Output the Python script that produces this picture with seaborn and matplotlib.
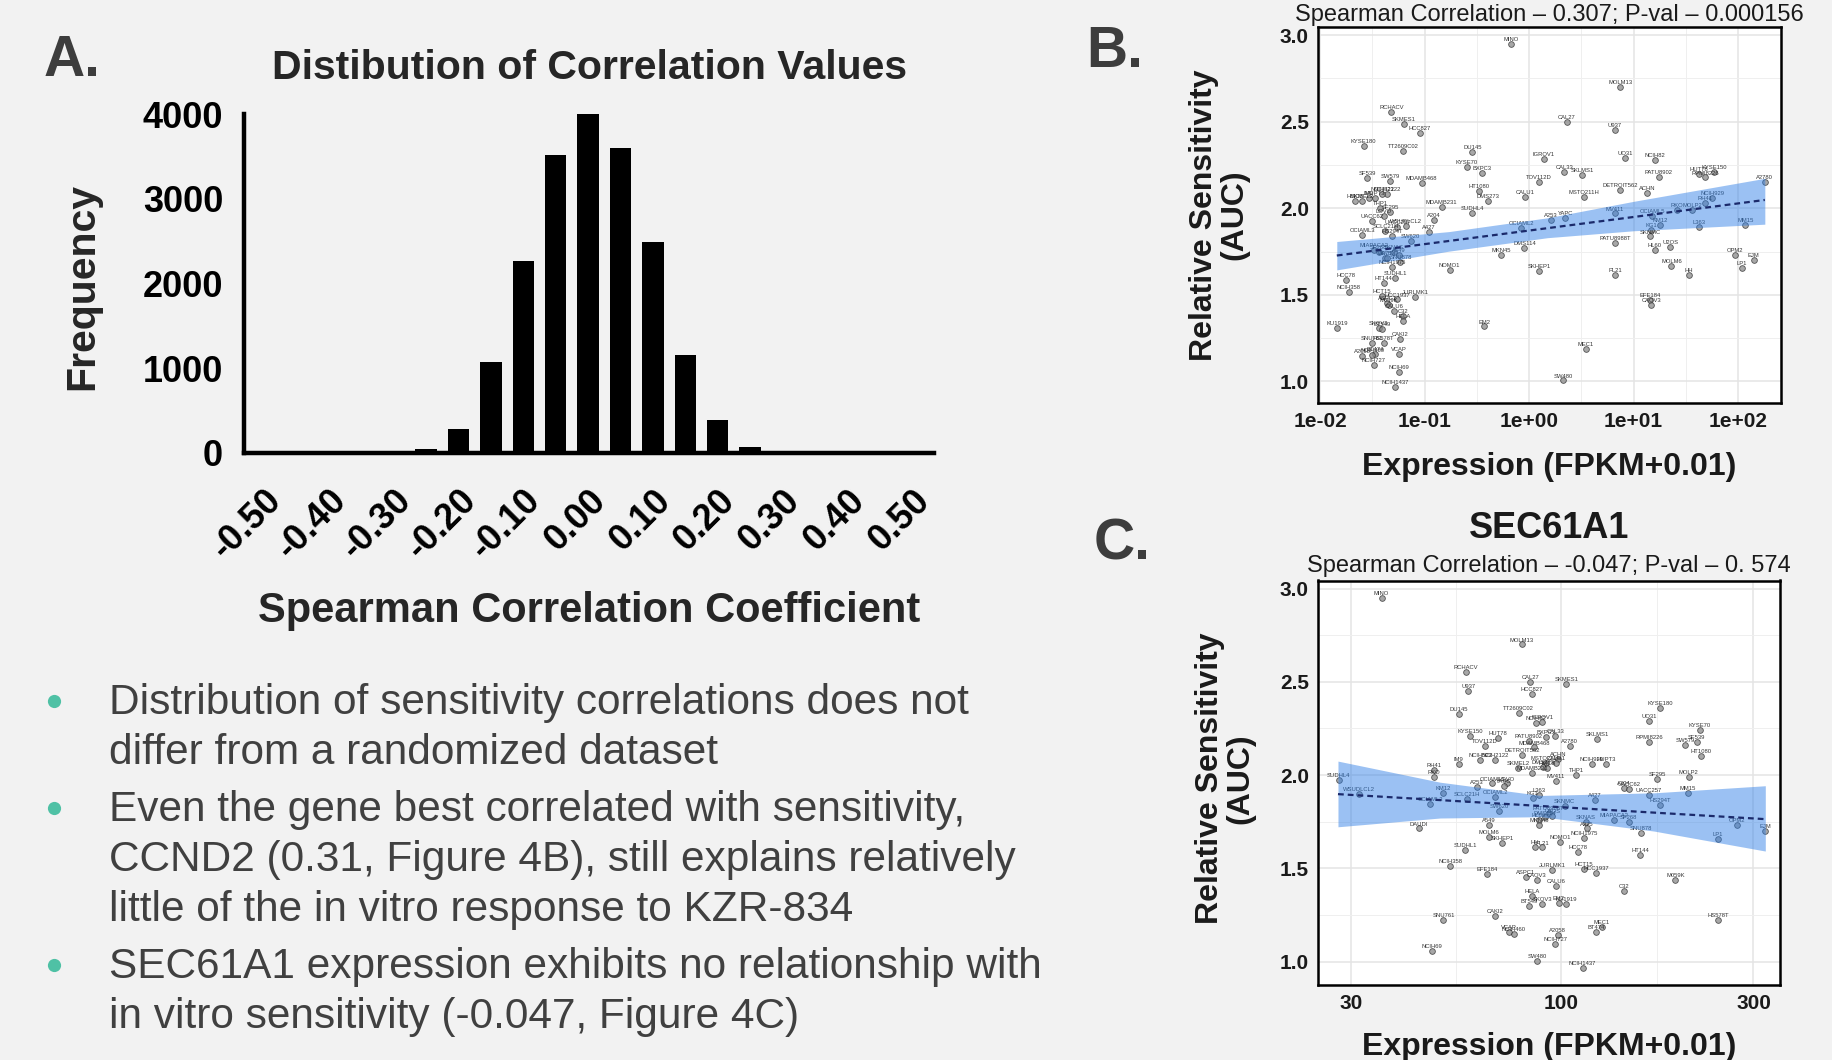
import matplotlib
matplotlib.use("Agg")
import matplotlib.pyplot as plt
import matplotlib.transforms as mtransforms
from matplotlib.lines import Line2D
from matplotlib.ticker import FixedLocator, NullFormatter
import numpy as np
import pandas as pd
import seaborn as sns

# ---- panel A: distribution of correlation values ----
corr_bin_centers = [-0.50, -0.45, -0.40, -0.35, -0.30, -0.25, -0.20, -0.15, -0.10, -0.05, 0.00,
                    0.05, 0.10, 0.15, 0.20, 0.25, 0.30, 0.35, 0.40, 0.45, 0.50]
corr_counts = [0, 0, 0, 0, 5, 45, 285, 1070, 2260, 3520, 4000,
               3600, 2490, 1160, 385, 65, 5, 0, 0, 0, 0]
corr_ticks = [-0.50, -0.40, -0.30, -0.20, -0.10, 0.00, 0.10, 0.20, 0.30, 0.40, 0.50]
freq_ticks = [0, 1000, 2000, 3000, 4000]

# ---- panels B / C: cell line sensitivity vs expression ----
cell_lines = ["MINO", "MOLM13", "RCHACV", "CAL27", "SKMES1", "U937", "HCC827", "KYSE180",
              "TT2609C02", "DU145", "UO31", "IGROV1", "NCIH82", "KYSE70", "CAL33", "KYSE150",
              "BXPC3", "HUT78", "SKLMS1", "PATU8902", "RPMI8226", "SF539", "SW579", "MDAMB468",
              "A2780", "TOV112D", "HT1080", "DETROIT562", "NCIH2122", "ACHN", "MSTO211H", "CALU1",
              "NCIH522", "NCIH929", "HUPT3", "DMS273", "IM9", "HMCB", "SKMEL2", "MDAMB231",
              "RH41", "RKO", "MOLP2", "MV411", "SF295", "SUDHL4", "THP1", "OCIAML5",
              "LOVO", "YAPC", "A253", "A204", "UACC62", "KM12", "MM15", "UACC257",
              "WSUDLCL2", "L363", "OCIAML2", "KG1", "SCLC21H", "A427", "OCIAML3", "HS294T",
              "SKNMC", "SW620", "PATU8988T", "SF268", "U2OS", "DMS114", "MIAPACA2", "HL60",
              "SKNAS", "MKN45", "A549", "A375", "DAUDI", "OPM2", "EJM", "SNU878",
              "LP1", "MOLM6", "NCIH1975", "NOMO1", "SKHEP1", "PL21", "HH", "SUDHL1",
              "HCC78", "HT144", "NCIH358", "HCT15", "JURLMK1", "HCC1937", "EFE184", "ASPC1",
              "M059K", "CAOV3", "CALU6", "C32", "HELA", "EM2", "KU1919", "SKOV3",
              "BT549", "CAKI2", "SNU761", "HS578T", "MEC1", "BT474", "VCAP", "NCIH460",
              "A2058", "NCIH727", "NCIH69", "SW480", "NCIH1437"]
auc = [2.95, 2.70, 2.554, 2.50, 2.488, 2.452, 2.437, 2.362,
       2.331, 2.327, 2.288, 2.285, 2.279, 2.240, 2.212, 2.208,
       2.204, 2.20, 2.192, 2.183, 2.178, 2.177, 2.160, 2.148,
       2.154, 2.154, 2.10, 2.106, 2.081, 2.087, 2.067, 2.067,
       2.08, 2.058, 2.062, 2.044, 2.06, 2.04, 2.04, 2.01,
       2.03, 1.99, 1.99, 1.97, 1.981, 1.975, 2.00, 1.955,
       1.955, 1.942, 1.935, 1.933, 1.925, 1.905, 1.904, 1.893,
       1.90, 1.894, 1.885, 1.875, 1.87, 1.865, 1.845, 1.84,
       1.837, 1.81, 1.798, 1.75, 1.779, 1.773, 1.76, 1.76,
       1.75, 1.731, 1.732, 1.714, 1.714, 1.731, 1.70, 1.688,
       1.657, 1.668, 1.661, 1.642, 1.635, 1.612, 1.615, 1.60,
       1.587, 1.571, 1.514, 1.495, 1.49, 1.473, 1.47, 1.455,
       1.44, 1.44, 1.404, 1.38, 1.35, 1.317, 1.31, 1.31,
       1.30, 1.244, 1.222, 1.222, 1.185, 1.16, 1.158, 1.15,
       1.144, 1.096, 1.056, 1.005, 0.967]
ccnd2_expr = [0.671, 7.45, 0.0482, 2.30, 0.0633, 6.58, 0.0901, 0.0261,
              0.0619, 0.287, 8.32, 1.38, 16.1, 0.252, 2.18, 58.5,
              0.358, 42.0, 3.20, 17.4, 48.6, 0.0281, 0.0471, 0.0935,
              180.0, 1.24, 0.333, 7.45, 0.0438, 13.4, 3.32, 0.923,
              0.0392, 56.4, 0.0338, 0.401, 0.0292, 0.0217, 0.0252, 0.146,
              48.6, 26.0, 36.2, 6.58, 0.0471, 0.287, 0.0378, 15.0,
              0.0407, 2.21, 1.63, 0.123, 0.0314, 18.0, 117.0, 0.0546,
              0.0657, 42.0, 0.838, 14.8, 0.0422, 0.110, 0.0252, 0.0489,
              14.5, 0.0733, 6.67, 0.0364, 22.5, 0.902, 0.0326, 15.9,
              0.0507, 0.538, 0.0566, 0.0422, 0.0438, 94.2, 141.0, 0.0587,
              109.0, 23.0, 0.0489, 0.174, 1.24, 6.67, 33.6, 0.0526,
              0.0177, 0.0407, 0.0187, 0.0392, 0.0818, 0.0546, 14.5, 0.0438,
              0.0452, 14.8, 0.0507, 0.0619, 0.0619, 0.372, 0.01445, 0.0364,
              0.0392, 0.0587, 0.0314, 0.0407, 3.49, 0.0338, 0.0566, 0.0314,
              0.0252, 0.0326, 0.0566, 2.13, 0.0526]
sec61a1_expr = [35.8, 79.9, 58.0, 83.8, 103.0, 58.7, 84.6, 176.0,
                78.4, 55.6, 165.0, 89.6, 86.5, 221.0, 96.6, 59.4,
                91.5, 69.6, 123.0, 83.0, 165.0, 217.0, 203.0, 85.5,
                105.0, 64.7, 222.0, 79.9, 68.5, 98.0, 91.5, 97.0,
                62.9, 119.0, 129.0, 90.0, 55.6, 92.0, 78.0, 84.6,
                48.2, 48.2, 207.0, 97.0, 173.0, 28.0, 109.0, 67.3,
                73.3, 72.0, 61.8, 143.0, 147.0, 51.0, 206.0, 165.0,
                31.4, 88.0, 68.5, 85.0, 58.3, 121.0, 47.3, 176.0,
                102.0, 70.0, 93.0, 147.0, 95.0, 91.0, 135.0, 88.0,
                115.0, 88.0, 66.1, 116.0, 44.3, 273.0, 321.0, 158.0,
                245.0, 66.1, 114.0, 99.4, 71.3, 89.6, 86.0, 57.8,
                110.0, 157.0, 53.0, 114.0, 95.0, 122.0, 65.4, 81.5,
                192.0, 87.0, 97.0, 143.0, 84.6, 98.5, 103.0, 89.6,
                83.0, 68.5, 51.0, 245.0, 126.0, 122.0, 74.0, 76.2,
                98.0, 96.6, 47.8, 87.2, 113.0]

# dashed fit line and confidence band
ccnd2_fit_x = [0.01445, 180.0]
ccnd2_fit_y = [1.727, 2.048]
ccnd2_band_x = [0.01445, 0.17, 1.5, 10.0, 180.0]
ccnd2_band_lo = [1.644, 1.752, 1.830, 1.870, 1.908]
ccnd2_band_hi = [1.808, 1.865, 1.945, 2.040, 2.173]

sec61_fit_x = [27.9, 321.0]
sec61_fit_y = [1.898, 1.764]
sec61_band_x = [27.9, 50.0, 89.0, 170.0, 321.0]
sec61_band_lo = [1.723, 1.770, 1.777, 1.700, 1.593]
sec61_band_hi = [2.075, 1.962, 1.891, 1.905, 1.943]

ccnd2_ticks = [1e-2, 1e-1, 1e0, 1e1, 1e2]
ccnd2_ticklabels = ["1e-02", "1e-01", "1e+00", "1e+01", "1e+02"]
sec61_ticks = [30, 100, 300]
sec61_ticklabels = ["30", "100", "300"]
auc_ticks = [1.0, 1.5, 2.0, 2.5, 3.0]

bullet_lines = [
    ("Distribution of sensitivity correlations does not", True),
    ("differ from a randomized dataset", False),
    ("Even the gene best correlated with sensitivity,", True),
    ("CCND2 (0.31, Figure 4B), still explains relatively", False),
    ("little of the in vitro response to KZR-834", False),
    ("SEC61A1 expression exhibits no relationship with", True),
    ("in vitro sensitivity (-0.047, Figure 4C)", False),
]

# ---------------------------------------------------------------
sns.set_theme(style="white")
plt.rcParams["font.family"] = ["Liberation Sans", "DejaVu Sans"]

W, H = 1832, 1060
BG = "#F2F2F2"
fig = plt.figure(figsize=(W / 100, H / 100), dpi=100, facecolor=BG)


def fx(x):
    return x / W


def fy(y):
    return 1 - y / H


# ---------------- panel A ----------------
axA = fig.add_axes([fx(244), fy(453), fx(690), 339 / H])
axA.set_facecolor("none")
sns.barplot(x=corr_bin_centers, y=corr_counts, native_scale=True, width=0.66,
            color="black", saturation=1, errorbar=None, ax=axA, linewidth=0)
axA.set_xlim(-0.531, 0.534)
axA.set_ylim(0, 4000)
sns.despine(ax=axA)
for s in ["left", "bottom"]:
    axA.spines[s].set_linewidth(3.2)
    axA.spines[s].set_color("black")
axA.set_xticks(corr_ticks)
axA.set_xticklabels([f"{t:.2f}" for t in corr_ticks], rotation=45, ha="right", va="top",
                    rotation_mode="anchor", fontsize=26, fontweight="bold")
axA.set_yticks(freq_ticks)
axA.set_yticklabels([str(t) for t in freq_ticks], fontsize=26, fontweight="bold")
axA.tick_params(axis="x", direction="out", length=13.5, width=3, pad=8, colors="black")
axA.tick_params(axis="y", direction="out", length=11, width=3, pad=4, colors="black")
shift = mtransforms.ScaledTranslation(0.0, 0, fig.dpi_scale_trans)
for lbl in axA.get_xticklabels():
    lbl.set_transform(lbl.get_transform() + shift)
axA.set_xlabel("Spearman Correlation Coefficient", fontsize=30, fontweight="bold", va="center")
axA.xaxis.set_label_coords(0.5, (453 - 611) / 339)
axA.set_ylabel("Frequency", fontsize=29.5, fontweight="bold", va="center")
axA.yaxis.set_label_coords((82 - 244) / 690, 0.49)
fig.text(fx(590), fy(68), "Distibution of Correlation Values", fontsize=29.5,
         fontweight="bold", ha="center", va="center")

# panel letters
for letter, (px, py) in {"A.": (72, 61), "B.": (1115, 52), "C.": (1122, 545)}.items():
    fig.text(fx(px), fy(py), letter, fontsize=41, fontweight="bold", color="#3D3D3D",
             ha="center", va="center")

# ---------------- bullets ----------------
baseline = 714
for text, has_bullet in bullet_lines:
    if has_bullet:
        baseline += 7 if baseline > 714 else 0
        fig.add_artist(Line2D([fx(54)], [fy(baseline - 13)], marker="o", ms=9.5,
                              mew=0, color="#4FC1A5", transform=fig.transFigure))
    fig.text(fx(109), fy(baseline), text, fontsize=30.5, color="#404040",
             ha="left", va="baseline")
    baseline += 50

# ---------------- scatter panels ----------------
df = pd.DataFrame({"cell_line": cell_lines, "auc": auc,
                   "ccnd2": ccnd2_expr, "sec61a1": sec61a1_expr})


def scatter_panel(ax, xcol, xlim, ylim, ticks, ticklabels,
                  fit_x, fit_y, band_x, band_lo, band_hi):
    ax.set_facecolor("white")
    sns.scatterplot(data=df, x=xcol, y="auc", ax=ax, s=17, color="#8A8A8A",
                    edgecolor="#2A2A2A", linewidth=0.6, alpha=0.75, zorder=3, legend=False)
    for name, xv, yv in zip(df["cell_line"], df[xcol], df["auc"]):
        ax.annotate(name, (xv, yv), xytext=(0, 3.2), textcoords="offset points",
                    ha="center", va="center", fontsize=4.2, color="#1F1F1F",
                    alpha=0.9, zorder=4)
    ax.fill_between(band_x, band_lo, band_hi, color="#2F7FE6", alpha=0.48,
                    linewidth=0, zorder=5)
    ax.plot(fit_x, fit_y, color="#1B2A6B", lw=1.6, ls=(0, (2.6, 1.8)), zorder=6)
    ax.set_xscale("log")
    ax.set_xlim(*xlim)
    ax.set_ylim(*ylim)
    ax.set_xticks(ticks)
    ax.set_xticklabels(ticklabels)
    minor = np.sqrt(np.array(ticks[:-1]) * np.array(ticks[1:]))
    ax.xaxis.set_minor_locator(FixedLocator(minor))
    ax.xaxis.set_minor_formatter(NullFormatter())
    ax.set_yticks(auc_ticks)
    ax.set_yticklabels([f"{t:.1f}" for t in auc_ticks])
    ax.yaxis.set_minor_locator(FixedLocator([1.25, 1.75, 2.25, 2.75]))
    ax.grid(which="major", color="#E4E4E4", lw=1.1)
    ax.grid(which="minor", color="#EFEFEF", lw=0.7)
    ax.set_axisbelow(True)
    ax.tick_params(which="major", direction="out", length=3.5, width=1.3,
                   colors="black", labelsize=15, pad=3)
    ax.tick_params(which="minor", length=0)
    for lbl in ax.get_xticklabels() + ax.get_yticklabels():
        lbl.set_fontweight("bold")
        lbl.set_color("#1A1A1A")
    for s in ax.spines.values():
        s.set_visible(True)
        s.set_color("black")
        s.set_linewidth(1.8)
    ax.set_xlabel("Expression (FPKM+0.01)", fontsize=23, fontweight="bold",
                  va="center", color="#1A1A1A")
    ax.set_ylabel("Relative Sensitivity\n(AUC)", fontsize=23, fontweight="bold",
                  va="center", linespacing=1.0, color="#1A1A1A")


axB = fig.add_axes([fx(1318), fy(403), fx(463), 376.5 / H])
scatter_panel(axB, "ccnd2", (10 ** -2.02, 10 ** 2.41), (0.875, 3.05),
              ccnd2_ticks, ccnd2_ticklabels, ccnd2_fit_x, ccnd2_fit_y,
              ccnd2_band_x, ccnd2_band_lo, ccnd2_band_hi)
axB.xaxis.set_label_coords(0.5, (403 - 467) / 376.5)
axB.yaxis.set_label_coords((1219 - 1318) / 463, 0.5)
axB.text(0.5, (403 - 15) / 376.5, "Spearman Correlation \u2013 0.307; P-val \u2013 0.000156",
         transform=axB.transAxes, ha="center", va="center", fontsize=17, color="#1A1A1A")

axC = fig.add_axes([fx(1318), fy(985), fx(462), 404.5 / H])
scatter_panel(axC, "sec61a1", (10 ** 1.396, 10 ** 2.543), (0.875, 3.043),
              sec61_ticks, sec61_ticklabels, sec61_fit_x, sec61_fit_y,
              sec61_band_x, sec61_band_lo, sec61_band_hi)
axC.xaxis.set_label_coords(0.5, (985 - 1047) / 404.5)
axC.yaxis.set_label_coords((1225 - 1318) / 462, 0.51)
axC.text(0.5, (985 - 529) / 404.5, "SEC61A1", transform=axC.transAxes,
         ha="center", va="center", fontsize=26, fontweight="bold", color="#1A1A1A")
axC.text(0.5, (985 - 566) / 404.5, "Spearman Correlation \u2013 -0.047; P-val \u2013 0. 574",
         transform=axC.transAxes, ha="center", va="center", fontsize=17, color="#1A1A1A")

fig.savefig("out.png", dpi=100, facecolor=BG)
